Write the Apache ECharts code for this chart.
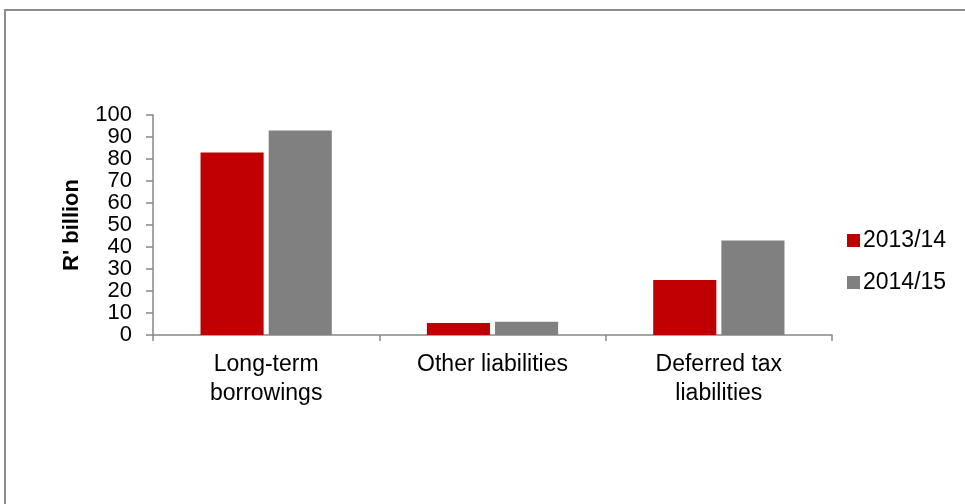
<!DOCTYPE html>
<html>
<head>
<meta charset="utf-8">
<script src="https://cdn.jsdelivr.net/npm/echarts@6/dist/echarts.min.js"></script>
<style>
  html, body { margin: 0; padding: 0; background: #fff; }
  #chart { width: 965px; height: 504px; }
</style>
</head>
<body>
<div id="chart"></div>
<script>
// Non-current liabilities, R' billion
const categories = ['Long-term\nborrowings', 'Other liabilities', 'Deferred tax\nliabilities'];
const seriesNames = ['2013/14', '2014/15'];
const values2013 = [83, 5.5, 25];
const values2014 = [93, 6, 43];
const yTicks = { min: 0, max: 100, interval: 10 };

const FONT = '"Liberation Sans", Arial, sans-serif';
const AXIS_GREY = '#868686';

const chart = echarts.init(document.getElementById('chart'), null, { renderer: 'canvas' });

chart.setOption({
  animation: false,
  backgroundColor: '#ffffff',
  textStyle: { fontFamily: FONT, color: '#000' },
  graphic: [{
    type: 'rect',
    shape: { x: 5, y: 10, width: 1000, height: 600 },
    style: { fill: 'none', stroke: '#8c8c8c', lineWidth: 2 },
    silent: true,
    z: -1
  }],
  grid: { left: 153, right: 133, top: 115, bottom: 169, containLabel: false },
  legend: {
    orient: 'vertical',
    left: 842,
    top: 224,
    itemWidth: 13,
    itemHeight: 13,
    itemGap: 19,
    icon: 'rect',
    textStyle: { fontFamily: FONT, fontSize: 23, color: '#000', padding: [0, 0, 0, -2] },
    data: seriesNames
  },
  xAxis: {
    type: 'category',
    data: categories,
    axisLine: { lineStyle: { color: AXIS_GREY, width: 1.5 } },
    axisTick: { show: true, length: 6, lineStyle: { color: AXIS_GREY, width: 1.5 } },
    axisLabel: {
      fontFamily: FONT, fontSize: 23, color: '#000',
      margin: 15, lineHeight: 29, interval: 0
    }
  },
  yAxis: {
    type: 'value',
    min: yTicks.min,
    max: yTicks.max,
    interval: yTicks.interval,
    name: "R' billion",
    nameLocation: 'middle',
    nameGap: 70,
    nameTextStyle: { fontFamily: FONT, fontSize: 22, fontWeight: 'bold', color: '#000' },
    splitLine: { show: false },
    axisLine: { show: true, lineStyle: { color: AXIS_GREY, width: 1.5 } },
    axisTick: { show: true, length: 7, lineStyle: { color: AXIS_GREY, width: 1.5 } },
    axisLabel: { fontFamily: FONT, fontSize: 22, color: '#000', margin: 21 }
  },
  series: [
    {
      name: seriesNames[0],
      type: 'bar',
      data: values2013,
      itemStyle: { color: '#C00000' },
      barGap: '8%',
      barCategoryGap: '42%'
    },
    {
      name: seriesNames[1],
      type: 'bar',
      data: values2014,
      itemStyle: { color: '#808080' },
      barGap: '8%',
      barCategoryGap: '42%'
    }
  ]
});
</script>
</body>
</html>
